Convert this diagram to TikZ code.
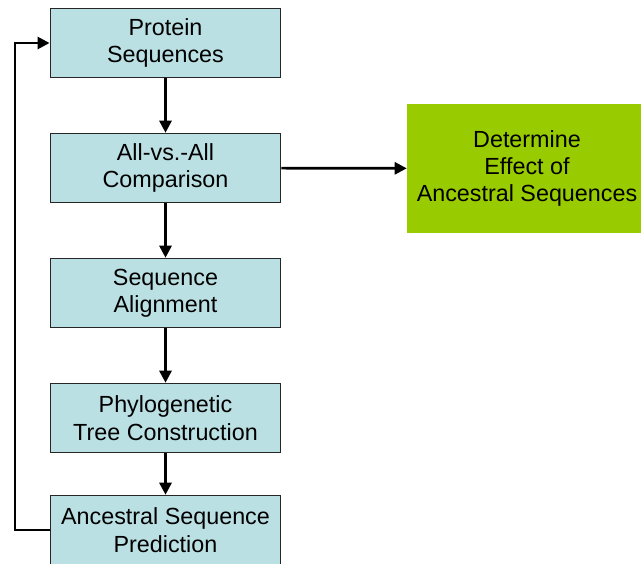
\documentclass[tikz,border=0pt]{standalone}
\usepackage{fontspec}
\setmainfont{Liberation Sans}
\usepackage{xcolor}
\usetikzlibrary{arrows.meta, positioning}
\definecolor{stagefill}{RGB}{187,224,227}
\definecolor{goalfill}{RGB}{153,204,0}

\begin{document}
\begin{tikzpicture}[
      x=0.75pt, y=-0.75pt,
      stage/.style = {draw=black!85, line width=0.9pt, fill=stagefill,
                      minimum width=173pt, minimum height=52pt,
                      inner sep=0pt, align=center,
                      font=\fontsize{17.5}{20.5}\selectfont},
      goal/.style  = {fill=goalfill, minimum width=180pt, minimum height=97pt,
                      inner sep=0pt, align=center,
                      font=\fontsize{17.5}{20.5}\selectfont},
      arrow/.style = {-{Triangle[length=9pt, width=9pt]}, line width=2pt}
    ]
    \useasboundingbox (0,0) rectangle (641,563);
    \clip (0,0) rectangle (641,563);

    \node[stage] (prot)  at (165.5,43)  {Protein\\Sequences};
    \node[stage] (comp)  at (165.5,168) {All-vs.-All\\Comparison};
    \node[stage] (align) at (165.5,293) {Sequence\\Alignment};
    \node[stage] (tree)  at (165.5,418) {Phylogenetic\\Tree Construction};
    \node[stage] (pred)  at (165.5,530) {Ancestral Sequence\\Prediction};
    \node[goal]  (effect) at (527,168.5) {Determine\\Effect of\\Ancestral Sequences};

    \coordinate (back) at (15,0);

    \draw[arrow] (prot)  -- (comp);
    \draw[arrow] (comp)  -- (align);
    \draw[arrow] (align) -- (tree);
    \draw[arrow] (tree)  -- (pred);
    \draw[arrow] (comp)  -- (effect);
    \draw[arrow] (pred.west) -- (pred.west -| back) |- (prot.west);
  \end{tikzpicture}
\end{document}
